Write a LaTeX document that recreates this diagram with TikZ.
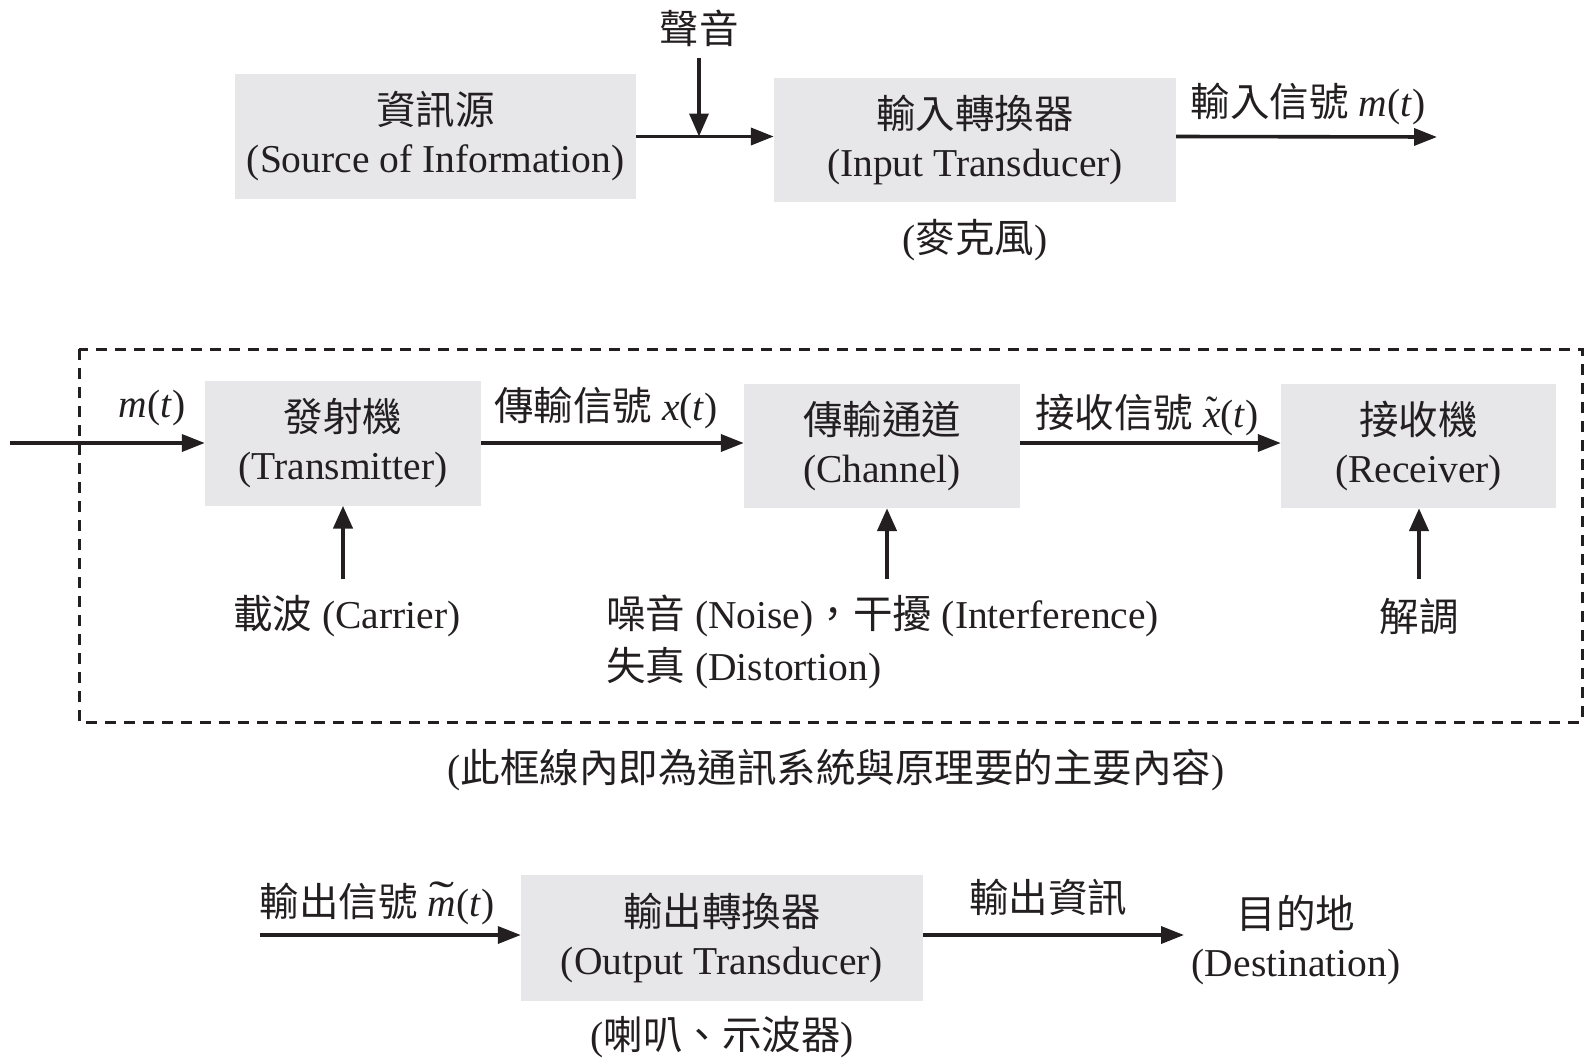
\documentclass[tikz,border=0pt]{standalone}
\usepackage{fontspec}
\usepackage{graphicx}
\setmainfont{Liberation Serif}
\newfontfamily\cjk{Noto Sans CJK TC}
\usetikzlibrary{arrows.meta}
\definecolor{boxgray}{RGB}{231,231,233}
\definecolor{ink}{RGB}{35,31,32}
\newcommand\zht[1]{{\cjk #1}}
\newcommand\tildex{\ooalign{\textit{x}\cr\hidewidth\raisebox{0.1em}{\scalebox{0.85}[1]{˜}}\hidewidth\cr}}
\newcommand\tildem{\ooalign{\textit{m}\cr\hidewidth\raisebox{0.1em}{\scalebox{1.9}[1.15]{˜}}\hidewidth\cr}}
\begin{document}
\begin{tikzpicture}[x=1pt,y=-1pt,
  every node/.style={font=\fontsize{39.5}{48}\selectfont, text=ink, inner sep=0pt},
  blk/.style={fill=boxgray, align=center},
  sig/.style={draw=ink, line width=3.6pt, -{Triangle[length=23pt,width=17pt]}},
  ctl/.style={draw=ink, line width=4.5pt, -{Triangle[length=23pt,width=19pt]}},
  frame/.style={draw=ink, line width=3pt, dash pattern=on 11pt off 8pt}
]
\useasboundingbox (0,0) rectangle (1584,1058);

% ---------- top row ----------
\node[blk, minimum width=401pt, minimum height=125pt] (src) at (435.5,136.5)
  {\zht{資訊源}\\(Source of Information)};
\node[blk, minimum width=402pt, minimum height=124pt] (itd) at (975,140)
  {\zht{輸入轉換器}\\(Input Transducer)};
\node (sound) at (699,28) {\zht{聲音}};
\node (mic) at (975,240) {(\zht{麥克風})};
\node (inlab) at (1308,104) {\zht{輸入信號} \textit{m}(\textit{t})};
\coordinate (mout) at (1437,137);

\draw[sig] (src.east) -- (src.east -| itd.west);
\draw[ctl, line width=3.5pt, shorten <=11pt] (sound.south) -- (sound.south |- src.east);
\draw[sig] (src.east -| itd.east) -- (mout);

% ---------- middle row ----------
\draw[frame] (79,349) rectangle (1582,722);

\node[blk, minimum width=276pt, minimum height=125pt] (tx) at (343,443)
  {\zht{發射機}\\(Transmitter)};
\node[blk, minimum width=276pt, minimum height=124pt] (ch) at (882,446)
  {\zht{傳輸通道}\\(Channel)};
\node[blk, minimum width=275pt, minimum height=124pt] (rx) at (1418.5,446)
  {\zht{接收機}\\(Receiver)};

\coordinate (min) at (10,443);
\node (mt) at (152,408) {\textit{m}(\textit{t})};
\node (xt) at (606,408) {\zht{傳輸信號} \textit{x}(\textit{t})};
\node (xtt) at (1147,415) {\zht{接收信號} \tildex(\textit{t})};

\draw[sig] (min) -- (tx.west);
\draw[sig] (tx.east) -- (tx.east -| ch.west);
\draw[sig] (tx.east -| ch.east) -- (tx.east -| rx.west);

\coordinate (c1) at (343,579);
\coordinate (c2) at (887,579);
\coordinate (c3) at (1419,579);
\node (carrier) at (347,616) {\zht{載波} (Carrier)};
\node[align=left, anchor=west, font=\fontsize{39.5}{52}\selectfont] (noise) at (606,642)
  {\zht{噪音} (Noise)\zht{，干擾} (Interference)\\\zht{失真} (Distortion)};
\node (demod) at (1419,616) {\zht{解調}};

\draw[ctl] (c1) -- (c1 |- tx.south);
\draw[ctl] (c2) -- (c2 |- ch.south);
\draw[ctl] (c3) -- (c3 |- rx.south);

\node (caption) at (836,770) {(\zht{此框線內即為通訊系統與原理要的主要內容})};

% ---------- bottom row ----------
\node[blk, minimum width=402pt, minimum height=126pt] (otd) at (722,938)
  {\zht{輸出轉換器}\\(Output Transducer)};
\coordinate (oin) at (260,935);
\coordinate (oout) at (1184,935);
\node (outsig) at (377,904) {\zht{輸出信號} \tildem(\textit{t})};
\node (outinfo) at (1048,897) {\zht{輸出資訊}};
\node[align=center] (dest) at (1296,940) {\zht{目的地}\\(Destination)};
\node (spk) at (722,1037) {(\zht{喇叭、示波器})};

\draw[sig] (oin) -- (oin -| otd.west);
\draw[sig] (oin -| otd.east) -- (oout);
\end{tikzpicture}
\end{document}
